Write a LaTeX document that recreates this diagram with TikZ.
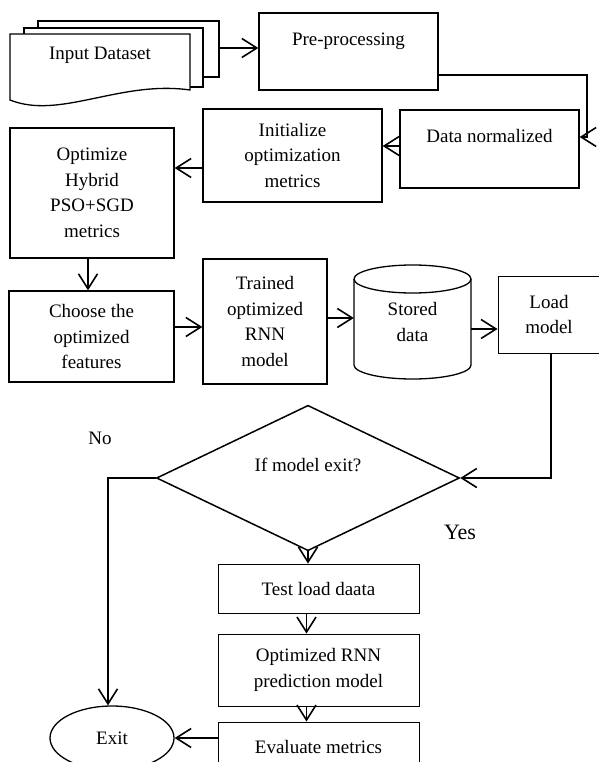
\documentclass[tikz,border=0pt]{standalone}
\usepackage{fontspec}
\setmainfont{Liberation Serif}
\usetikzlibrary{arrows.meta,shapes.geometric}
\newcommand\flowfont{\fontsize{19}{25.5}\selectfont}
\tikzset{
  block/.style={draw,line width=1.3pt,inner sep=0pt,align=center,font=\flowfont},
  thinblock/.style={block,line width=0.9pt},
  sheet/.style={draw,fill=white,line width=1.3pt},
  flow/.style={line width=1.5pt,-{Straight Barb[length=15pt,width=19pt,line width=1.6pt]}},
}

\begin{document}
\begin{tikzpicture}[x=1pt,y=-1pt]
\useasboundingbox (0,0) rectangle (598,762);
\draw[sheet] (38,21) rectangle (219,77);
\draw[sheet] (24,28) rectangle (203,87);
\draw[sheet] (10,34) -- (190,34) -- (190,90) .. controls (120,80) and (60,120) .. (10,100) -- cycle;
\node[font=\flowfont] (input) at (100,55) {Input Dataset};
\coordinate (inputout) at (219,48);

\node[block,minimum width=179pt,minimum height=77pt] (pre) at (348.5,51.5) {Pre-processing\\\mbox{}};
\node[block,minimum width=179pt,minimum height=78pt] (dnorm) at (489.5,149) {Data normalized\\\mbox{}};
\node[block,minimum width=179pt,minimum height=93pt] (init) at (292.5,155.5) {Initialize\\optimization\\metrics};
\node[block,minimum width=164pt,minimum height=130pt] (opt) at (92,193) {Optimize\\Hybrid\\PSO+SGD\\metrics};
\node[block,minimum width=165pt,minimum height=91pt] (choose) at (91.5,336.5) {Choose the\\optimized\\features};
\node[block,minimum width=124pt,minimum height=125pt] (trained) at (265,321.5) {Trained\\optimized\\RNN\\model};

\draw[line width=1.3pt] (354,279) -- (354,365) arc[start angle=180,end angle=360,x radius=58.5pt,y radius=14pt] -- (471,279);
\draw[line width=1.3pt] (412.5,279) ellipse[x radius=58.5pt,y radius=14pt];
\node[font=\flowfont,align=center,inner sep=0pt,minimum width=117pt,minimum height=114pt] (store) at (412.5,322) {Stored\\data};

\node[thinblock,minimum width=102pt,minimum height=77pt] (load) at (549,314.5) {Load\\model};
\node[diamond,draw,line width=1.5pt,inner sep=0pt,minimum width=303pt,minimum height=122pt,align=center,font=\flowfont] (decide) at (308,478) {If model exit?\\\mbox{}};
\node[font=\flowfont] (no) at (100,438) {No};
\node[font=\fontsize{22}{26}\selectfont] (yes) at (460,532) {Yes};

\node[thinblock,minimum width=201pt,minimum height=49pt] (test) at (318.5,588.5) {Test load daata};
\node[thinblock,minimum width=201pt,minimum height=72pt] (optrnn) at (318.5,670) {Optimized RNN\\prediction model};
\node[thinblock,minimum width=201pt,minimum height=50pt] (evalm) at (318.5,747) {Evaluate metrics};
\node[ellipse,draw,line width=1.3pt,inner sep=0pt,minimum width=124pt,minimum height=64pt,font=\flowfont] (exit) at (112,738) {Exit};

\coordinate (turn) at (587,137);
\draw[flow] (inputout) -- (inputout -| pre.west);
\draw[flow] ([yshift=-23.5pt]pre.east) -| (turn) -- ([yshift=12pt]dnorm.east);
\draw[flow] ([yshift=3pt]dnorm.west) -- ([yshift=3pt]dnorm.west -| init.east);
\draw[flow] ([yshift=-12.5pt]init.west) -- ([yshift=-12.5pt]init.west -| opt.east);
\draw[flow] ([xshift=-4pt]opt.south) -- ([xshift=-4pt]opt.south |- choose.north);
\draw[flow] ([yshift=9.5pt]choose.east) -- ([yshift=9.5pt]choose.east -| trained.west);
\draw[flow] ([yshift=3.5pt]trained.east) -- ([yshift=3.5pt]trained.east -| store.west);
\draw[flow] ([yshift=-7pt]store.east) -- ([yshift=-7pt]store.east -| load.west);
\draw[flow] ([xshift=2pt]load.south) |- (decide.east);
\draw[flow] (decide.south) -- (decide.south |- test.north);
\draw[flow] ([xshift=-12pt]test.south) -- ([xshift=-12pt]optrnn.north);
\draw[flow] ([xshift=-12pt]optrnn.south) -- ([xshift=-12pt]evalm.north);
\draw[flow] (evalm.west |- exit.east) -- (exit.east);
\draw[flow] (decide.west) -| ([xshift=-4pt]exit.north);
\end{tikzpicture}
\end{document}
